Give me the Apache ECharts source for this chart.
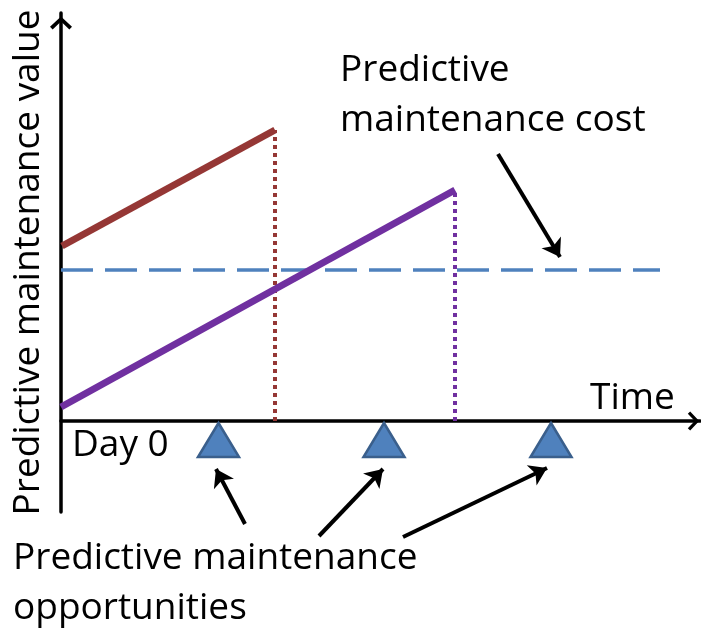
<!DOCTYPE html>
<html>
<head>
<meta charset="utf-8">
<script src="https://cdn.jsdelivr.net/npm/echarts@6/dist/echarts.min.js"></script>
<style>
html,body{margin:0;padding:0;background:#fff;}
#chart{width:701px;height:632px;}
</style>
</head>
<body>
<div id="chart"></div>
<script>
// Axis ranges (time units, value units)
const xRange = [0, 63.9];
const yRange = [-9.1, 40.8];

// Value lines: [time, value]
const redValue = [[0.1, 17.5], [21.4, 29.1]];
const purpleValue = [[0.0, 1.4], [39.4, 23.1]];
const costLevel = 15.1;
const costSpan = [0, 59.9];
// Dotted drop lines at the end of each value line
const redDrop = [[21.4, 0], [21.4, 29.1]];
const purpleDrop = [[39.4, 0], [39.4, 23.1]];
// Maintenance opportunities (time positions)
const opportunities = [15.75, 32.3, 49.0];
const opportunityLevel = -1.9;

// Annotation arrows: [from, to]
const arrowsOpp = [
  [[18.4, -10.3], [15.5, -4.8]],
  [[25.8, -11.5], [32.2, -4.8]],
  [[34.2, -11.6], [48.6, -4.7]]
];
const arrowCost = [[43.7, 26.7], [49.9, 16.4]];

// Texts
const yTitle = 'Predictive maintenance value';
const xTitle = 'Time';
const originLabel = 'Day 0';
const costLabel = ['Predictive', 'maintenance cost'];
const oppLabel = ['Predictive maintenance', 'opportunities'];

const FONT = '"Open Sans", "Liberation Sans", sans-serif';
const FS = 37;
const chevron = 'path://M10,0 L20,9.5 L17.6,12 L10,4.6 L2.4,12 L0,9.5 Z';

const chart = echarts.init(document.getElementById('chart'), null, {renderer: 'canvas'});

const option = {
  animation: false,
  backgroundColor: '#ffffff',
  grid: {left: 61, right: 1, top: 13, bottom: 120, outerBoundsMode: 'none', containLabel: false},
  xAxis: {
    type: 'value', min: xRange[0], max: xRange[1],
    axisLine: {onZero: true, lineStyle: {color: '#000', width: 3.5},
      symbol: ['none', chevron], symbolSize: [19, 13], symbolOffset: [0, -6.5]},
    axisTick: {show: false}, axisLabel: {show: false}, splitLine: {show: false}
  },
  yAxis: {
    type: 'value', min: yRange[0], max: yRange[1],
    name: yTitle, nameLocation: 'middle', nameRotate: 90, nameGap: 14,
    nameTextStyle: {fontFamily: FONT, fontSize: FS, color: '#000'},
    axisLine: {onZero: false, lineStyle: {color: '#000', width: 3.5},
      symbol: ['none', chevron], symbolSize: [22, 20], symbolOffset: [0, -10]},
    axisTick: {show: false}, axisLabel: {show: false}, splitLine: {show: false}
  },
  series: [
    {type: 'line', data: redDrop, showSymbol: false, z: 2,
      lineStyle: {color: '#953735', width: 4, type: [4, 4]}},
    {type: 'line', data: purpleDrop, showSymbol: false, z: 2,
      lineStyle: {color: '#7030A0', width: 4, type: [4, 4]}},
    {type: 'line', data: [[costSpan[0], costLevel], [costSpan[1], costLevel]], showSymbol: false, z: 2,
      lineStyle: {color: '#4F81BD', width: 3.5, type: [32, 12], dashOffset: 0}},
    {type: 'line', data: redValue, showSymbol: false, z: 3,
      lineStyle: {color: '#953735', width: 7}},
    {type: 'line', data: purpleValue, showSymbol: false, z: 3,
      lineStyle: {color: '#7030A0', width: 7}},
    {type: 'scatter', data: opportunities.map(x => [x, opportunityLevel]), symbol: 'triangle',
      symbolSize: [41, 34], z: 4,
      itemStyle: {color: '#4F81BD', borderColor: '#3A5F8C', borderWidth: 2.5, opacity: 1}},
    {type: 'lines', coordinateSystem: 'cartesian2d', clip: false, z: 5,
      symbol: ['none', 'arrow'], symbolSize: 17,
      lineStyle: {color: '#000', width: 4, opacity: 1},
      data: arrowsOpp.concat([arrowCost]).map(c => ({coords: c}))}
  ],
  graphic: [
    {type: 'text', left: 340, top: 45, style: {text: costLabel.join('\n'), font: FS + 'px ' + FONT, fill: '#000', lineHeight: 50}},
    {type: 'text', left: 590, top: 380, style: {text: xTitle, font: FS + 'px ' + FONT, fill: '#000'}},
    {type: 'text', left: 72, top: 427, style: {text: originLabel, font: FS + 'px ' + FONT, fill: '#000'}},
    {type: 'text', left: 13, top: 533, style: {text: oppLabel.join('\n'), font: FS + 'px ' + FONT, fill: '#000', lineHeight: 50}}
  ]
};
chart.setOption(option);
</script>
</body>
</html>
